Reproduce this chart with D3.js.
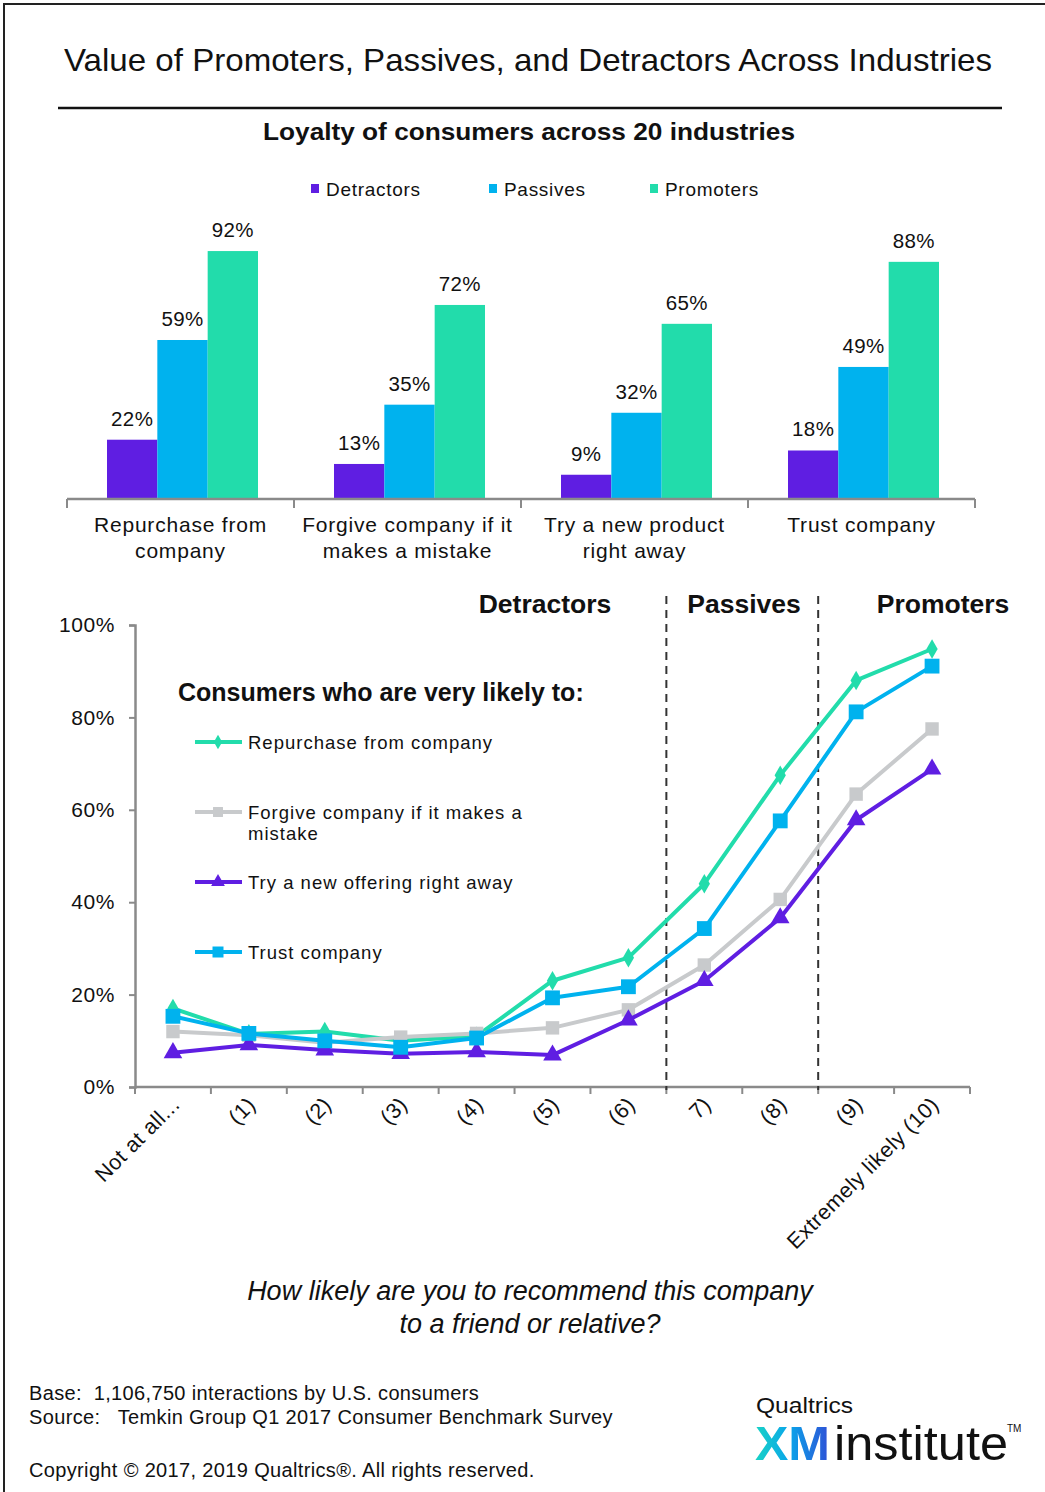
<!DOCTYPE html>
<html>
<head>
<meta charset="utf-8">
<script src="https://cdn.jsdelivr.net/npm/d3@7/dist/d3.min.js"></script>
<style>
  html, body { margin: 0; padding: 0; background: #fff; }
  svg text { font-family: "Liberation Sans", Arial, sans-serif; fill: #111; }
</style>
</head>
<body>
<svg id="chart" width="1045" height="1492"></svg>
<script>
// ---- Bar chart data: share of each group "very likely" to do each action ----
const barCategories = [
  ["Repurchase from", "company"],
  ["Forgive company if it", "makes a mistake"],
  ["Try a new product", "right away"],
  ["Trust company"]
];
const barSeries = ["Detractors", "Passives", "Promoters"];
const detractors = [22, 13, 9, 18];
const passives   = [59, 35, 32, 49];
const promoters  = [92, 72, 65, 88];

// ---- Line chart data: likelihood to recommend (0-10) vs. behaviour ----
const scoreLabels = ["Not at all...", "(1)", "(2)", "(3)", "(4)", "(5)", "(6)", "7)", "(8)", "(9)", "Extremely likely (10)"];
const repurchase = [17, 11.5, 12, 10, 11, 23, 28, 44, 67.5, 88, 94.8];
const forgive    = [12, 11.2, 9.6, 10.8, 11.6, 12.8, 16.7, 26.4, 40.6, 63.4, 77.5];
const tryNew     = [7.4, 9.1, 8, 7.2, 7.6, 6.9, 14.5, 23, 36.6, 57.8, 68.8];
const trust      = [15.3, 11.6, 10, 8.6, 10.6, 19.3, 21.7, 34.3, 57.6, 81.2, 91.1];
const yTicks = [0, 20, 40, 60, 80, 100];
const zoneLabels = ["Detractors", "Passives", "Promoters"];

const COLORS = { purple: "#5f1ee2", blue: "#00b2ee", green: "#22dcab", gray: "#c8cacc", axis: "#8a8a8a" };

const svg = d3.select("#chart");

// Frame
svg.append("path").attr("d", "M4,1492 V4 H1045").attr("fill", "none").attr("stroke", "#222").attr("stroke-width", 2);

// Titles
svg.append("text").attr("x", 528).attr("y", 71).attr("text-anchor", "middle")
  .attr("font-size", 32).attr("textLength", 928).attr("lengthAdjust", "spacingAndGlyphs")
  .text("Value of Promoters, Passives, and Detractors Across Industries");
svg.append("line").attr("x1", 58).attr("x2", 1002).attr("y1", 108).attr("y2", 108)
  .attr("stroke", "#111").attr("stroke-width", 2.5);
svg.append("text").attr("x", 529).attr("y", 140).attr("text-anchor", "middle")
  .attr("font-size", 24).attr("font-weight", "bold").attr("textLength", 532).attr("lengthAdjust", "spacingAndGlyphs")
  .text("Loyalty of consumers across 20 industries");

// ---- Bar chart ----
const barColors = [COLORS.purple, COLORS.blue, COLORS.green];
const barValues = [detractors, passives, promoters];

const legendX = [311, 489, 650];
const lg = svg.append("g");
barSeries.forEach((s, i) => {
  lg.append("rect").attr("x", legendX[i]).attr("y", 184).attr("width", 8).attr("height", 9).attr("fill", barColors[i]);
  lg.append("text").attr("x", legendX[i] + 15).attr("y", 196).attr("font-size", 19)
    .attr("letter-spacing", 0.7).text(s);
});

const x0 = d3.scaleBand().domain(d3.range(barCategories.length)).range([67, 975]);
const x1 = d3.scaleBand().domain(d3.range(barSeries.length)).range([40, x0.bandwidth() - 36]);
const yBar = d3.scaleLinear().domain([0, 100]).range([499, 229.5]);

const bars = svg.append("g");
barCategories.forEach((c, ci) => {
  barSeries.forEach((s, si) => {
    const v = barValues[si][ci];
    const bx = x0(ci) + x1(si);
    bars.append("rect").attr("x", bx).attr("y", yBar(v)).attr("width", x1.bandwidth())
      .attr("height", yBar(0) - yBar(v)).attr("fill", barColors[si]);
    bars.append("text").attr("x", bx + x1.bandwidth() / 2).attr("y", yBar(v) - 14)
      .attr("text-anchor", "middle").attr("font-size", 20.5).attr("letter-spacing", 0.4).text(v + "%");
  });
});

// Bar axis with category dividers
const barAxis = svg.append("g");
barAxis.append("line").attr("x1", 67).attr("x2", 975).attr("y1", 499).attr("y2", 499)
  .attr("stroke", COLORS.axis).attr("stroke-width", 2.5);
d3.range(barCategories.length + 1).forEach(i => {
  const tx = i < barCategories.length ? x0(i) : x0.range()[1];
  barAxis.append("line").attr("x1", tx).attr("x2", tx).attr("y1", 499).attr("y2", 508)
    .attr("stroke", COLORS.axis).attr("stroke-width", 2);
});
barCategories.forEach((lines, ci) => {
  const cx = x0(ci) + x0.bandwidth() / 2;
  const t = barAxis.append("text").attr("x", cx).attr("y", 532)
    .attr("text-anchor", "middle").attr("font-size", 21).attr("letter-spacing", 0.8);
  lines.forEach((ln, li) => t.append("tspan").attr("x", cx).attr("dy", li ? 26 : 0).text(ln));
});

// ---- Line chart ----
const xL = d3.scaleBand().domain(scoreLabels).range([135, 970]);
const yL = d3.scaleLinear().domain([0, 100]).range([1087, 625]);
const px = d => xL(d) + xL.bandwidth() / 2;

// Y axis
const yAxisG = svg.append("g").attr("transform", "translate(135,0)")
  .call(d3.axisLeft(yL).tickValues(yTicks).tickSize(6).tickPadding(14).tickFormat(d => d + "%"));
yAxisG.select(".domain").attr("stroke", COLORS.axis).attr("stroke-width", 2.5);
yAxisG.selectAll(".tick line").attr("stroke", COLORS.axis).attr("stroke-width", 2);
yAxisG.selectAll(".tick text").attr("font-size", 21).attr("letter-spacing", 0.6).attr("fill", "#111")
  .attr("font-family", "Liberation Sans, Arial, sans-serif");

// X axis: ticks between categories
const xAxisG = svg.append("g");
xAxisG.append("line").attr("x1", 135).attr("x2", 970).attr("y1", 1087).attr("y2", 1087)
  .attr("stroke", COLORS.axis).attr("stroke-width", 2.5);
scoreLabels.concat([null]).forEach(d => {
  const tx = d === null ? 970 : xL(d);
  xAxisG.append("line").attr("x1", tx).attr("x2", tx).attr("y1", 1087).attr("y2", 1094)
    .attr("stroke", COLORS.axis).attr("stroke-width", 2);
});
scoreLabels.forEach(d => {
  xAxisG.append("text")
    .attr("transform", `translate(${px(d) + 8},${1106}) rotate(-45)`)
    .attr("text-anchor", "end").attr("font-size", 21.5).attr("letter-spacing", 0.5).text(d);
});

// Zone dividers between Detractors (0-6), Passives (7-8), Promoters (9-10)
const dividerX = [xL("7)"), xL("(9)")];
dividerX.forEach(dx => {
  svg.append("line").attr("x1", dx).attr("x2", dx).attr("y1", 596).attr("y2", 1090)
    .attr("stroke", "#333").attr("stroke-width", 2).attr("stroke-dasharray", "8,6");
});
const zoneX = [545, 744, 943];
zoneLabels.forEach((z, i) => {
  svg.append("text").attr("x", zoneX[i]).attr("y", 613).attr("text-anchor", "middle")
    .attr("font-size", 26.5).attr("font-weight", "bold").text(z);
});

// Series
const lineSeries = [
  { name: "Repurchase from company", values: repurchase, color: COLORS.green, marker: d3.symbolDiamond, size: 110 },
  { name: "Forgive company if it makes a|mistake", values: forgive, color: COLORS.gray, marker: d3.symbolSquare, size: 180 },
  { name: "Try a new offering right away", values: tryNew, color: COLORS.purple, marker: d3.symbolTriangle, size: 150 },
  { name: "Trust company", values: trust, color: COLORS.blue, marker: d3.symbolSquare, size: 220 }
];
const line = d3.line().x((d, i) => px(scoreLabels[i])).y(d => yL(d));

lineSeries.forEach(s => {
  const g = svg.append("g");
  g.append("path").attr("d", line(s.values)).attr("fill", "none")
    .attr("stroke", s.color).attr("stroke-width", 4).attr("stroke-linejoin", "round");
  g.selectAll("path.m").data(s.values).join("path").attr("class", "m")
    .attr("transform", (d, i) => `translate(${px(scoreLabels[i])},${yL(d)})`)
    .attr("d", d3.symbol().type(s.marker).size(s.size)).attr("fill", s.color);
});

// Legend inside the plot
svg.append("text").attr("x", 178).attr("y", 701).attr("font-size", 25).attr("font-weight", "bold")
  .text("Consumers who are very likely to:");
const legendY = [742, 812, 882, 952];
lineSeries.forEach((s, i) => {
  const g = svg.append("g").attr("transform", `translate(0,${legendY[i]})`);
  g.append("line").attr("x1", 195).attr("x2", 242).attr("y1", 0).attr("y2", 0)
    .attr("stroke", s.color).attr("stroke-width", 4);
  g.append("path").attr("transform", "translate(218,0)")
    .attr("d", d3.symbol().type(s.marker).size(s.size * 0.55)).attr("fill", s.color);
  const t = g.append("text").attr("x", 248).attr("y", 7).attr("font-size", 18.5).attr("letter-spacing", 1);
  s.name.split("|").forEach((ln, li) => t.append("tspan").attr("x", 248).attr("dy", li ? 21 : 0).text(ln));
});

// Axis title
const q = svg.append("text").attr("text-anchor", "middle").attr("font-size", 27).attr("font-style", "italic");
q.append("tspan").attr("x", 530).attr("y", 1300).text("How likely are you to recommend this company");
q.append("tspan").attr("x", 530).attr("y", 1333).text("to a friend or relative?");

// Footer
const foot = svg.append("g");
foot.append("text").attr("x", 29).attr("y", 1400).attr("font-size", 20).attr("letter-spacing", 0.35)
  .attr("xml:space", "preserve").text("Base:  1,106,750 interactions by U.S. consumers");
foot.append("text").attr("x", 29).attr("y", 1424).attr("font-size", 20).attr("letter-spacing", 0.35)
  .attr("xml:space", "preserve").text("Source:   Temkin Group Q1 2017 Consumer Benchmark Survey");
foot.append("text").attr("x", 29).attr("y", 1477).attr("font-size", 20).attr("letter-spacing", 0.35)
  .text("Copyright \u00A9 2017, 2019 Qualtrics\u00AE. All rights reserved.");

// Logo
const defs = svg.append("defs");
const grad = defs.append("linearGradient").attr("id", "xmGrad").attr("x1", "0").attr("x2", "1").attr("y1", "0").attr("y2", "0");
grad.append("stop").attr("offset", "0%").attr("stop-color", "#19d3c5");
grad.append("stop").attr("offset", "45%").attr("stop-color", "#0aa6ea");
grad.append("stop").attr("offset", "100%").attr("stop-color", "#2f4fd6");
svg.append("text").attr("x", 756).attr("y", 1413).attr("font-size", 22).attr("textLength", 97)
  .attr("lengthAdjust", "spacingAndGlyphs").attr("fill", "#222").text("Qualtrics");
svg.append("text").attr("x", 755).attr("y", 1460).attr("font-size", 48).attr("font-weight", "bold")
  .attr("textLength", 75).attr("lengthAdjust", "spacingAndGlyphs").style("fill", "url(#xmGrad)").text("XM");
svg.append("text").attr("x", 834).attr("y", 1460).attr("font-size", 48)
  .attr("font-family", "Roboto, sans-serif").attr("font-weight", 300)
  .attr("textLength", 174).attr("lengthAdjust", "spacingAndGlyphs").attr("fill", "#222").text("institute");
svg.append("text").attr("x", 1007).attr("y", 1432).attr("font-size", 10).attr("fill", "#222").text("TM");
</script>
</body>
</html>
